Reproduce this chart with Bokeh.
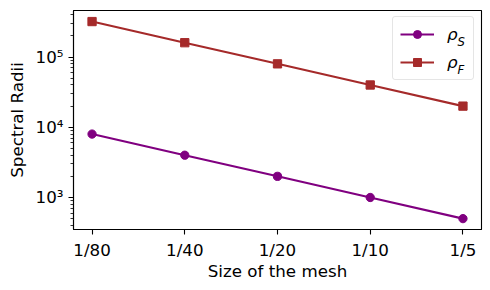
from bokeh.plotting import figure
from bokeh.models import (Range1d, FixedTicker, Legend, LegendItem, Label)
from bokeh.embed import file_html
from bokeh.resources import INLINE

# ---- data ----
mesh_sizes = ["1/80", "1/40", "1/20", "1/10", "1/5"]
rho_S = [8000, 4000, 2000, 1000, 500]
rho_F = [320000, 160000, 80000, 40000, 20000]
y_tick_values = [1e3, 1e4, 1e5]
y_tick_labels = ["10³", "10⁴", "10⁵"]
legend_names = ["S", "F"]

x_pos = list(range(len(mesh_sizes)))

FONT = "DejaVu Sans"
FS = "16.7px"
PURPLE = "#800080"
BROWN = "#a52a2a"

p = figure(width=483, height=288, output_backend="svg", toolbar_location=None,
           y_axis_type="log",
           x_range=Range1d(-0.2, len(mesh_sizes) - 1 + 0.2),
           y_range=Range1d(350, 460000),
           min_border_left=73, min_border_right=2, min_border_top=10, min_border_bottom=59)

p.background_fill_color = "white"
p.border_fill_color = "white"
p.outline_line_color = "black"
p.outline_line_width = 1.1
p.xgrid.visible = False
p.ygrid.visible = False

# x axis
p.xaxis.ticker = FixedTicker(ticks=x_pos, minor_ticks=[])
p.xaxis.major_label_overrides = {i: s for i, s in enumerate(mesh_sizes)}
p.xaxis.axis_label = "Size of the mesh"

# y axis
minor = []
for d in [1e2, 1e3, 1e4, 1e5]:
    for k in range(2, 10):
        minor.append(k * d)
p.yaxis.ticker = FixedTicker(ticks=y_tick_values, minor_ticks=minor)
p.yaxis.major_label_overrides = {v: s for v, s in zip(y_tick_values, y_tick_labels)}
p.yaxis.axis_label = "Spectral Radii"

for ax in (p.xaxis[0], p.yaxis[0]):
    ax.axis_line_color = "black"
    ax.axis_line_width = 1.1
    ax.major_tick_line_color = "black"
    ax.major_tick_line_width = 1.1
    ax.major_tick_out = 5
    ax.major_tick_in = 0
    ax.minor_tick_line_color = "black"
    ax.minor_tick_line_width = 0.8
    ax.minor_tick_out = 3
    ax.minor_tick_in = 0
    ax.major_label_text_font = FONT
    ax.major_label_text_font_size = FS
    ax.major_label_text_color = "black"
    ax.axis_label_text_font = FONT
    ax.axis_label_text_font_size = FS
    ax.axis_label_text_font_style = "normal"
    ax.axis_label_text_color = "black"
    ax.major_label_standoff = 5

p.yaxis.axis_label_standoff = 6
p.xaxis.axis_label_standoff = -2

# series
l1 = p.line(x_pos, rho_S, line_color=PURPLE, line_width=2.1)
s1 = p.scatter(x_pos, rho_S, marker="circle", size=8.3, fill_color=PURPLE, line_color=PURPLE)
l2 = p.line(x_pos, rho_F, line_color=BROWN, line_width=2.1)
s2 = p.scatter(x_pos, rho_F, marker="square", size=8.3, fill_color=BROWN, line_color=BROWN)

legend = Legend(items=[LegendItem(label="ρ", renderers=[l1, s1]),
                       LegendItem(label="ρ", renderers=[l2, s2])],
                location=(319, 149), margin=0, padding=7,
                glyph_width=34, glyph_height=20, label_height=20, label_width=19,
                label_standoff=13, spacing=8,
                label_text_font=FONT, label_text_font_size=FS,
                label_text_font_style="italic", label_text_color="black",
                background_fill_color="white", background_fill_alpha=0.0,
                border_line_color="#cccccc", border_line_width=1)
if "border_radius" in Legend.properties():
    legend.border_radius = 3
p.add_layout(legend)

for name, yb in zip(legend_names, [187.3, 160.0]):
    p.add_layout(Label(x=384, y=yb, x_units="screen", y_units="screen", text=name,
                       level="overlay",
                       text_font=FONT, text_font_size="11.7px", text_font_style="italic",
                       text_color="black", text_baseline="alphabetic", text_align="left"))

open("out.html", "w").write(file_html(p, INLINE))
